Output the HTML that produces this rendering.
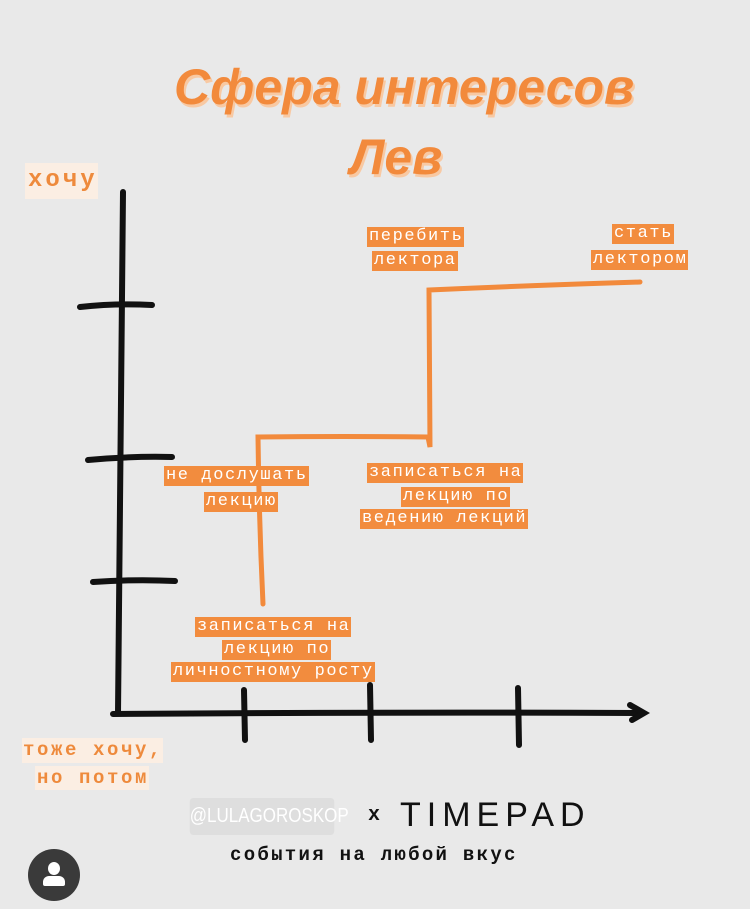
<!DOCTYPE html>
<html><head><meta charset="utf-8"><style>
body{margin:0;width:750px;height:909px;background:#e9e9e9;position:relative;overflow:hidden;font-family:"Liberation Mono",monospace}
.t{position:absolute;font-family:"Liberation Sans",sans-serif;font-weight:bold;font-style:italic;color:#f28a3c;font-size:50px;text-shadow:2px 3px 0 #f8c9a3;letter-spacing:0px}
.l{position:absolute;background:#f28c3e;color:#fff;font-size:17px;letter-spacing:1.6px;line-height:20px;padding:0 1px 0 2px;white-space:nowrap}
.p{position:absolute;background:#fbeee3;color:#ee8a3c;font-weight:bold;white-space:nowrap}
</style></head><body>
<div class="t" style="left:174px;top:58px">Сфера интересов</div>
<div class="t" style="left:350px;top:128px">Лев</div>
<div class="p" style="left:25px;top:163px;font-size:24px;line-height:36px;padding:0 0 0 3px;letter-spacing:3px">хочу</div>
<div class="p" style="left:22px;top:738px;font-size:19px;line-height:25px;padding:0 0 0 1px;letter-spacing:2.6px">тоже хочу,</div>
<div class="p" style="left:35px;top:766px;font-size:19px;line-height:24px;padding:0 0 0 2px;letter-spacing:2.6px">но потом</div>
<svg width="750" height="909" style="position:absolute;left:0;top:0">
<g stroke="#111" stroke-width="6" stroke-linecap="round" fill="none">
<path d="M123 192 Q121 450 118 713"/>
<path d="M113 714 Q380 712 642 713"/><path d="M630 705 L644 713 L632 720"/>
<path d="M80 307 Q115 303 152 305"/><path d="M88 460 Q130 456 172 457"/><path d="M93 582 Q135 579 175 581"/>
<path d="M244 690 L245 740"/><path d="M370 685 L371 740"/><path d="M518 688 L519 745"/>
</g>
<g stroke="#f28a3c" stroke-width="5" stroke-linecap="round" fill="none">
<path d="M263 604 Q259 520 258 437 Q345 436 428 437 L430 447 L429 290 Q540 285 640 282"/>
</g>
</svg>
<div class="l" style="left:367px;top:227px">перебить</div>
<div class="l" style="left:372px;top:251px">лектора</div>
<div class="l" style="left:612px;top:224px">стать</div>
<div class="l" style="left:591px;top:250px">лектором</div>
<div class="l" style="left:164px;top:466px">не дослушать</div>
<div class="l" style="left:204px;top:492px">лекцию</div>
<div class="l" style="left:367px;top:463px">записаться на</div>
<div class="l" style="left:401px;top:487px">лекцию по</div>
<div class="l" style="left:360px;top:509px">ведению лекций</div>
<div class="l" style="left:195px;top:617px">записаться на</div>
<div class="l" style="left:222px;top:640px">лекцию по</div>
<div class="l" style="left:171px;top:662px">личностному росту</div>
<div style="position:absolute;left:177px;top:798px;width:170px;height:37px;background:#dedede;border-radius:4px;color:#fff;font-family:'Liberation Sans',sans-serif;font-size:20px;line-height:37px;text-align:center;transform:scaleX(0.85)">@LULAGOROSKOP</div>
<div style="position:absolute;left:368px;top:804px;font-size:20px;font-weight:bold;color:#111">x</div>
<div style="position:absolute;left:400px;top:796px;font-family:'Liberation Sans',sans-serif;font-size:34px;letter-spacing:6px;color:#111">TIMEPAD</div>
<div style="position:absolute;left:230px;top:844px;font-size:19px;letter-spacing:2.3px;font-weight:bold;color:#111">события на любой вкус</div>
<div style="position:absolute;left:28px;top:849px;width:52px;height:52px;border-radius:50%;background:#3a3a3a"></div>
<div style="position:absolute;left:48px;top:862px;width:12px;height:13px;border-radius:50%;background:#fff"></div>
<div style="position:absolute;left:43px;top:876px;width:22px;height:10px;border-radius:6px 6px 2px 2px;background:#fff"></div>
</body></html>
